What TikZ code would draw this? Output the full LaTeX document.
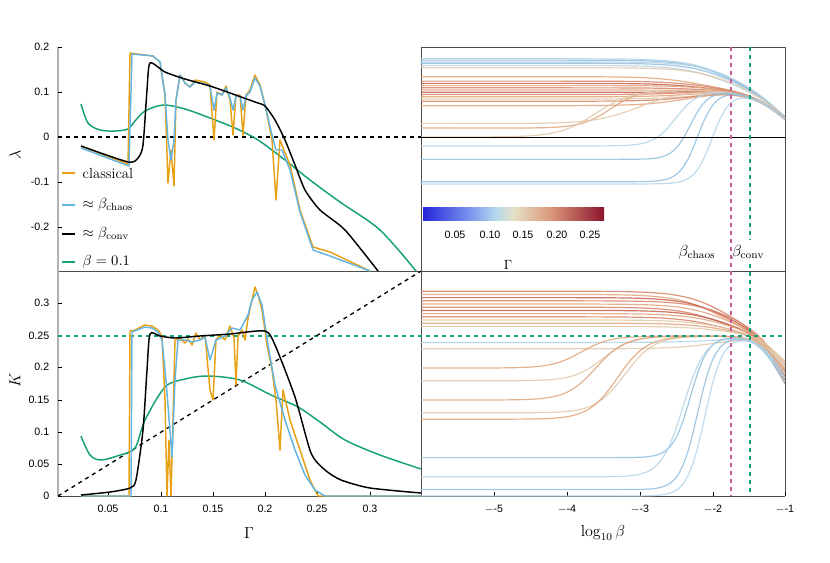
\documentclass[tikz,border=0pt]{standalone}
\usepackage{fontspec}
\newfontfamily\tickf{Liberation Sans}
\definecolor{orn}{RGB}{232,160,20}
\definecolor{lbl}{RGB}{100,180,225}
\definecolor{grn}{RGB}{20,160,120}
\definecolor{pnk}{RGB}{205,90,150}
\definecolor{ca}{RGB}{145,190,222}
\definecolor{cb}{RGB}{180,212,230}
\definecolor{cc}{RGB}{226,200,170}
\definecolor{cd}{RGB}{225,165,125}
\definecolor{ce}{RGB}{215,130,100}
\definecolor{cf}{RGB}{195,95,80}
\pgfdeclarehorizontalshading{cmap}{100bp}{rgb(0bp)=(0.15,0.15,0.85); rgb(25bp)=(0.15,0.15,0.85); rgb(37bp)=(0.45,0.55,0.93); rgb(45bp)=(0.70,0.85,0.93); rgb(50bp)=(0.90,0.88,0.78); rgb(60bp)=(0.86,0.60,0.48); rgb(75bp)=(0.55,0.08,0.18); rgb(100bp)=(0.55,0.08,0.18)}
\tikzset{tick/.style={font=\tickf\fontsize{8}{9}\selectfont},
 axl/.style={font=\fontsize{12}{14}\selectfont},
 frame/.style={draw=black!70,line width=0.5pt},
 crv/.style={line width=1.1pt,line join=round},
 rc/.style={line width=0.9pt,opacity=0.85}}
\begin{document}
\begin{tikzpicture}[x=0.75pt,y=-0.75pt,declare function={sg(\z)=1/(1+exp(-max(-9,min(9,\z))));}]
\useasboundingbox (0,0) rectangle (830,562);
% frames
\draw[frame] (421,47) -- (785,47) -- (785,496);
\draw[frame] (58,271) -- (785,271);
\draw[frame] (421,47) -- (421,496);
\draw[black!30,line width=0.8pt] (58,47) -- (58,496);
\draw[frame] (58,496) -- (785,496);
% ticks
\foreach \y/\t in {47/0.2,92/0.1,137/0,182/-0.1,227/-0.2}{\draw (58,\y)--(62,\y); \node[tick,anchor=east] (t\y) at (54,\y) {\t};}
\foreach \y/\t in {303/0.3,336/0.25,367/0.2,400/0.15,432/0.1,464/0.05,496/0}{\draw (58,\y)--(62,\y); \node[tick,anchor=east] (u\y) at (54,\y) {\t};}
\foreach \x/\t in {108/0.05,161/0.1,213/0.15,265/0.2,317/0.25,370/0.3}{\draw (\x,496)--(\x,492); \node[tick] (g\x) at (\x,509) {\t};}
\foreach \x/\t in {494/-5,567/-4,640/-3,713/-2,785/-1}{\draw (\x,496)--(\x,492); \node[tick] (l\x) at (\x,509) {$-$\t};}
\node[axl] (xg) at (249,533) {$\Gamma$};
\node[axl] (xb) at (603,533) {$\log_{10}\beta$};
\node[axl,rotate=90] (yl) at (15,155) {$\lambda$};
\node[axl,rotate=90] (yk) at (15,380) {$K$};
% right panels curves
\begin{scope}
\clip (421,47) rectangle (785,271);
\foreach \v/\xo/\w/\c in {0.175/-1.8/0.3/cb,0.172/-1.8/0.3/ca,0.168/-1.7/0.3/cb,0.165/-1.8/0.3/ca,0.16/-1.9/0.3/cb,0.155/-1.8/0.3/cc,
 0.135/-2.2/0.3/cd,0.125/-2.1/0.3/ce,0.12/-2.2/0.3/cf,0.115/-2.0/0.3/cd,0.11/-2.2/0.3/ce,0.105/-2.1/0.3/cd,0.1/-2.2/0.3/cf,0.095/-2.3/0.3/ce,0.09/-2.2/0.3/cd,0.085/-2.1/0.3/cc,0.08/-2.2/0.3/ce,0.07/-2.3/0.3/cd,
 0.02/-3.4/0.2/cd,0.0/-3.6/0.25/cc,0.03/-3.0/0.3/cc,-0.02/-2.5/0.15/cb,-0.05/-2.3/0.12/ca,-0.1/-2.2/0.12/ca,-0.105/-2.0/0.12/cb}
 {\draw[rc,\c] plot[domain=-6:-1,samples=80] ({421+(\x+6)*72.8},{137-447*(\v+(0.105-\v)*sg((\x-\xo)/\w)-0.13*sg((\x+1)/0.25))});}
\draw[black,line width=0.5pt] (421,137) -- (785,137);
\end{scope}
\begin{scope}
\clip (421,271) rectangle (785,496);
\foreach \v/\xo/\w/\c/\d in {0.32/-1.8/0.3/ce/0.12,0.315/-1.9/0.3/cd/0.1,0.31/-1.8/0.3/cf/0.11,0.305/-1.7/0.3/ce/0.09,0.3/-1.8/0.3/cd/0.1,0.295/-1.9/0.3/ce/0.08,0.29/-1.8/0.3/cf/0.1,0.285/-1.8/0.3/cd/0.07,0.28/-1.9/0.3/ce/0.09,0.275/-1.8/0.3/cc/0.08,0.27/-1.8/0.3/cd/0.1,0.265/-1.8/0.3/cc/0.06,
 0.24/-1.8/0.3/cb/0.07,0.23/-1.9/0.3/cc/0.06,
 0.2/-3.8/0.2/cd/0.1,0.18/-3.5/0.2/cc/0.08,0.15/-3.6/0.2/cd/0.09,0.13/-3.2/0.2/cc/0.07,0.12/-3.3/0.2/cd/0.08,
 0.06/-2.3/0.12/ca/0.1,0.03/-2.4/0.15/cb/0.09,0.01/-2.2/0.12/ca/0.11,0.0/-2.1/0.12/cb/0.1}
 {\draw[rc,\c] plot[domain=-6:-1,samples=80] ({421+(\x+6)*72.8},{496-640*(\v+(0.25-\v)*sg((\x-\xo)/\w)-\d*sg((\x+1.1)/0.15))});}
\end{scope}
% vertical dashed
\draw[pnk,dashed,line width=0.9pt] (731,47) -- (731,496);
\draw[grn,dashed,line width=1pt] (750,47) -- (750,240) (750,264) -- (750,496);
\draw[grn,dashed,line width=1pt] (58,336) -- (785,336);
% colorbar
\shade[shading=cmap] (423,207) rectangle (604,220);
\foreach \x/\t in {455/0.05,490/0.10,523/0.15,557/0.20,590/0.25}{\node[tick] (c\x) at (\x,235) {\t};}
\node[font=\fontsize{10}{12}\selectfont] (cg) at (508,265) {$\Gamma$};
\node[axl] (bc) at (697,252) {$\beta_{\mathrm{chaos}}$};
\node[axl] (bv) at (748,252) {$\beta_{\mathrm{conv}}$};
% top-left curves
\begin{scope}
\clip (58,47) rectangle (421,271);
\draw[black,dashed,line width=1pt] (58,137) -- (421,137);
\draw[crv,grn] plot[smooth] coordinates {(81,104)(88,123)(100,130)(115,131)(128,129)(135,121)(145,111)(163,105)(185,109)(210,118)(235,128)(258,140)(285,160)(310,180)(340,202)(380,230)(416,271)};
\draw[crv,orn] (81,146)--(128,164)--(130,53)--(153,56)--(160,62)--(165,95)--(168,183)--(171,150)--(174,186)--(176,100)--(180,75)--(185,83)--(190,87)--(195,80)--(205,82)--(210,85)--(214,140)--(217,92)--(222,95)--(226,86)--(230,100)--(233,135)--(236,95)--(240,95)--(243,135)--(246,95)--(250,90)--(255,75)--(260,85)--(265,105)--(272,140)--(276,200)--(280,140)--(290,165)--(300,210)--(313,247)--(330,252)--(370,271);
\draw[crv,lbl] (81,148)--(129,166)--(132,54)--(153,56)--(160,62)--(165,95)--(168,140)--(171,160)--(174,140)--(176,100)--(180,75)--(185,83)--(190,87)--(195,82)--(205,84)--(210,86)--(214,110)--(217,93)--(222,95)--(226,88)--(230,98)--(233,110)--(236,96)--(240,96)--(243,110)--(246,96)--(250,92)--(255,78)--(260,86)--(265,105)--(272,135)--(276,150)--(282,150)--(290,170)--(300,212)--(313,250)--(330,256)--(370,271);
\draw[crv,black] plot[smooth,tension=0.4] coordinates {(81,146)(128,162)(138,158)(143,145)(147,90)(150,63)(165,72)(185,79)(210,86)(230,93)(255,102)(265,106)(275,120)(285,140)(295,165)(305,190)(320,210)(345,230)(378,271)};
\end{scope}
% legend
\foreach \y/\c/\t in {173/orn/classical,205/lbl/$\approx\beta_{\mathrm{chaos}}$,234/black/$\approx\beta_{\mathrm{conv}}$,262/grn/$\beta=0.1$}
{\draw[\c,line width=1.1pt] (62,\y) -- (75,\y); \node[anchor=west,font=\fontsize{11}{13}\selectfont] (lg\y) at (78,\y) {\t};}
% bottom-left
\begin{scope}
\clip (58,271) rectangle (421,496);
\draw[black,dashed,line width=1pt] (58,496) -- (421,271);
\draw[crv,grn] plot[smooth] coordinates {(81,436)(90,455)(101,460)(120,455)(135,448)(145,420)(165,387)(185,379)(208,376)(240,380)(271,395)(298,407)(320,422)(345,440)(380,455)(421,469)};
\draw[crv,orn] (81,496)--(129,496)--(130,331)--(135,330)--(145,325)--(152,326)--(158,330)--(162,336)--(165,400)--(167,496)--(169,440)--(171,496)--(173,420)--(175,340)--(180,338)--(185,343)--(188,339)--(192,345)--(196,333)--(200,340)--(205,335)--(210,390)--(213,400)--(216,340)--(220,335)--(225,340)--(230,326)--(234,338)--(236,385)--(238,336)--(242,330)--(245,340)--(248,318)--(252,300)--(255,287)--(258,295)--(262,310)--(267,345)--(272,370)--(276,400)--(280,450)--(283,390)--(290,420)--(300,450)--(310,480)--(318,496)--(421,496);
\draw[crv,lbl] (81,496)--(131,496)--(132,332)--(137,330)--(145,327)--(152,328)--(158,332)--(162,340)--(166,380)--(172,457)--(175,380)--(178,340)--(185,340)--(192,342)--(200,340)--(205,337)--(210,360)--(213,350)--(216,340)--(225,336)--(232,328)--(240,330)--(248,315)--(252,300)--(257,292)--(262,305)--(268,345)--(275,385)--(285,420)--(295,450)--(305,475)--(315,490)--(325,496)--(421,496);
\draw[crv,black] plot[smooth,tension=0.4] coordinates {(81,495)(110,492)(130,488)(136,480)(143,430)(147,370)(150,334)(160,336)(175,338)(200,336)(230,334)(265,331)(275,345)(295,397)(311,453)(325,470)(341,480)(370,488)(421,493)};
\end{scope}
\end{tikzpicture}
\end{document}
